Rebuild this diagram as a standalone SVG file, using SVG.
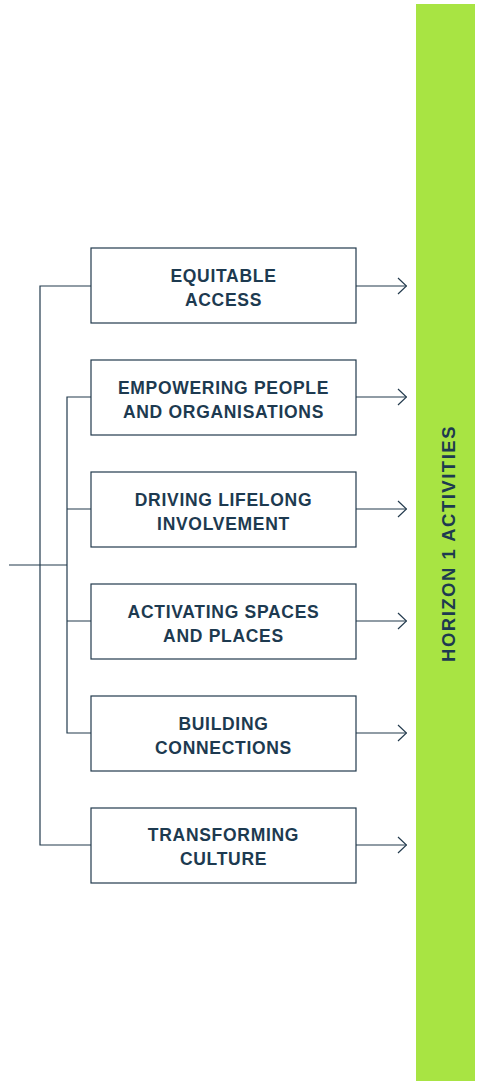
<svg xmlns="http://www.w3.org/2000/svg" width="481" height="1081" viewBox="0 0 481 1081">
<defs>
<style>
.box{fill:#ffffff;stroke:#223a4d;stroke-width:1.2}
.lbl{font-family:"Liberation Sans",Arial,sans-serif;font-weight:bold;font-size:17.5px;fill:#1d3a50;text-anchor:middle;letter-spacing:0.7px}
.ln{fill:none;stroke:#223a4d;stroke-width:1.2}
.side{font-family:"Liberation Sans",Arial,sans-serif;font-weight:bold;font-size:18.5px;fill:#1d3a50;text-anchor:middle;letter-spacing:1.5px}
</style>
<marker id="arr" viewBox="0 0 10 18" refX="9.5" refY="9" markerWidth="10" markerHeight="18" markerUnits="userSpaceOnUse" orient="auto">
<path d="M1,1 L9.5,9 L1,17" fill="none" stroke="#223a4d" stroke-width="1.2"/>
</marker>
</defs>
<rect id="horizon-bar" x="416" y="4" width="59" height="1077" fill="#a8e443"/>
<text class="side" transform="translate(455,543.5) rotate(-90)">HORIZON 1 ACTIVITIES</text>
<g id="connectors">
<path class="ln" d="M91,286 H40 V845 H91"/>
<path class="ln" d="M91,397 H67 V733 H91"/>
<path class="ln" d="M67,509 H91 M67,621 H91"/>
<path class="ln" d="M9,565 H67"/>
<path class="ln" marker-end="url(#arr)" d="M356,286 H406.5"/>
<path class="ln" marker-end="url(#arr)" d="M356,397 H406.5"/>
<path class="ln" marker-end="url(#arr)" d="M356,509 H406.5"/>
<path class="ln" marker-end="url(#arr)" d="M356,621 H406.5"/>
<path class="ln" marker-end="url(#arr)" d="M356,733 H406.5"/>
<path class="ln" marker-end="url(#arr)" d="M356,845 H406.5"/>
</g>
<g id="n1"><rect class="box" x="91" y="248" width="265" height="75"/><text class="lbl" x="223.5" y="282">EQUITABLE</text><text class="lbl" x="223.5" y="306">ACCESS</text></g>
<g id="n2"><rect class="box" x="91" y="360" width="265" height="75"/><text class="lbl" x="223.5" y="394">EMPOWERING PEOPLE</text><text class="lbl" x="223.5" y="418">AND ORGANISATIONS</text></g>
<g id="n3"><rect class="box" x="91" y="472" width="265" height="75"/><text class="lbl" x="223.5" y="506">DRIVING LIFELONG</text><text class="lbl" x="223.5" y="530">INVOLVEMENT</text></g>
<g id="n4"><rect class="box" x="91" y="584" width="265" height="75"/><text class="lbl" x="223.5" y="618">ACTIVATING SPACES</text><text class="lbl" x="223.5" y="642">AND PLACES</text></g>
<g id="n5"><rect class="box" x="91" y="696" width="265" height="75"/><text class="lbl" x="223.5" y="730">BUILDING</text><text class="lbl" x="223.5" y="754">CONNECTIONS</text></g>
<g id="n6"><rect class="box" x="91" y="808" width="265" height="75"/><text class="lbl" x="223.5" y="841">TRANSFORMING</text><text class="lbl" x="223.5" y="865">CULTURE</text></g>
</svg>
